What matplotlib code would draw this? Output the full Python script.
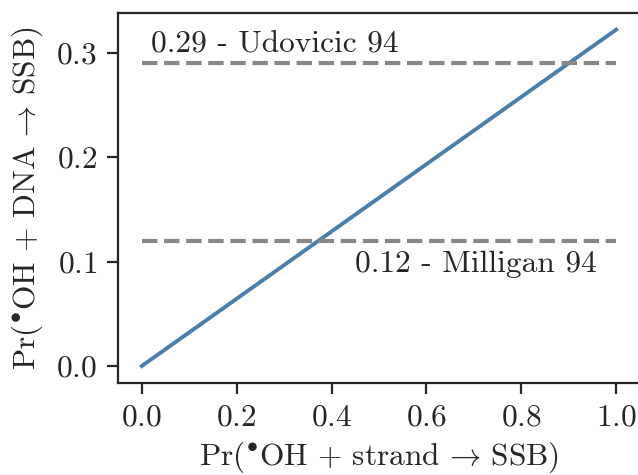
import matplotlib
matplotlib.use("Agg")
import matplotlib.pyplot as plt
import numpy as np

# data
x_strand = [0.0, 1.0]
y_dna = [0.0, 0.322]
ref_values = [0.29, 0.12]
ref_labels = ["0.29 - Udovicic 94", "0.12 - Milligan 94"]

plt.rcParams.update({
    "font.family": "serif",
    "font.serif": ["cmr10"],
    "mathtext.fontset": "cm",
    "axes.formatter.use_mathtext": True,
    "font.size": 11.3,
    "text.color": "0.15",
    "axes.labelcolor": "0.15",
    "axes.edgecolor": "0.15",
    "xtick.color": "0.15",
    "ytick.color": "0.15",
    "xtick.major.size": 4,
    "ytick.major.size": 4,
})

fig = plt.figure(figsize=(3.19, 2.375), dpi=200)
ax = fig.add_axes([0.185, 0.194, 0.818, 0.779])

ax.plot(x_strand, y_dna, color="#4a7fab", lw=1.4)
for v in ref_values:
    ax.plot([0, 1], [v, v], ls="--", color="#888888", lw=1.5)

ax.text(0.02, ref_values[0] + 0.004, ref_labels[0], ha="left", va="bottom")
ax.text(0.96, ref_values[1] - 0.009, ref_labels[1], ha="right", va="top")

ax.set_xlim(-0.05, 1.05)
ax.set_ylim(-0.0161, 0.3381)
ax.set_xticks([0.0, 0.2, 0.4, 0.6, 0.8, 1.0])
ax.set_yticks([0.0, 0.1, 0.2, 0.3])
ax.set_xlabel(r"Pr($^{\bullet}\mathrm{OH} \,+\, \mathrm{strand} \,\rightarrow\, \mathrm{SSB}$)", labelpad=3)
ax.set_ylabel(r"Pr($^{\bullet}\mathrm{OH} \,+\, \mathrm{DNA} \,\rightarrow\, \mathrm{SSB}$)")

fig.savefig("out.png", dpi=200)
